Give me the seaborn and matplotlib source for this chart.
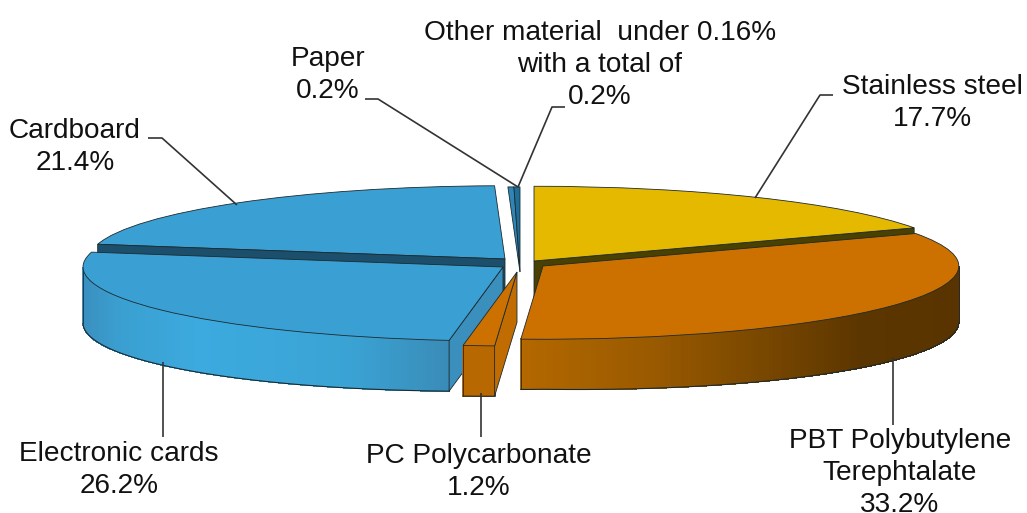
import numpy as np
import matplotlib
matplotlib.use("Agg")
import matplotlib.pyplot as plt
from matplotlib.colors import to_rgb
import seaborn as sns

materials = ["Stainless steel", "PBT Polybutylene\nTerephtalate", "PC Polycarbonate",
             "Electronic cards", "Cardboard", "Paper",
             "Other material  under 0.16%\nwith a total of"]
shares = [17.7, 33.2, 1.2, 26.2, 21.4, 0.2, 0.2]

top_colors = sns.color_palette(["#E5B900", "#CC7000", "#CC7000", "#3A9FD2", "#3A9FD2", "#2F86B5", "#1D6F9A"])

# geometry of the drawing, in pixels of the 1027x513 image
CX, CY, RX, RY = 520.0, 263.0, 420.0, 74.0
apex_px = [(534, 261), (543, 266), (517, 272), (503, 267), (505, 259), (520, 272), (520, 272)]
radius_scale = [1.01, 0.99, 1.0, 1.0, 0.99, 1.15, 1.15]
DEPTH_MID, DEPTH_EDGE = 50.0, 56.0

def to_data(px, py):
    return (px - CX) / RX, (CY - py) / RY

sns.set_theme(style="white")
plt.rcParams["font.family"] = ["Liberation Sans", "DejaVu Sans"]

fig = plt.figure(figsize=(10.27, 5.13), dpi=100, facecolor="white")
ax = fig.add_axes([0, 0, 1, 1])
wedges, _ = ax.pie(shares, colors=top_colors, startangle=90, counterclock=False,
                   wedgeprops=dict(edgecolor="#1c2a30", linewidth=0.6))
ax.set_aspect("auto")
ax.set_xlim(*[to_data(v, 0)[0] for v in (0, 1027)])
ax.set_ylim(to_data(0, 513)[1], to_data(0, 0)[1])
ax.axis("off")

for w, a, s in zip(wedges, apex_px, radius_scale):
    w.set_center(to_data(*a))
    w.set_radius(s)

def depth(t):
    return (DEPTH_MID + (DEPTH_EDGE - DEPTH_MID) * np.abs(np.cos(np.radians(t)))) / RY

def wall(w, px_stops, hex_stops, z):
    lo, hi = sorted((w.theta1, w.theta2))
    ts = np.linspace(lo, hi, 160)
    ts = ts[np.sin(np.radians(ts)) <= 0]
    cx, cy = w.center
    r = w.r
    xs = cx + r * np.cos(np.radians(ts))
    ys = cy + r * np.sin(np.radians(ts))
    ds = depth(ts)
    rgb = np.array([to_rgb(c) for c in hex_stops])
    for i in range(len(ts) - 1):
        mid = CX + RX * 0.5 * (xs[i] + xs[i + 1])
        col = [np.interp(mid, px_stops, rgb[:, j]) for j in range(3)]
        ax.fill([xs[i], xs[i + 1], xs[i + 1], xs[i]],
                [ys[i], ys[i + 1], ys[i + 1] - ds[i + 1], ys[i] - ds[i]],
                facecolor=col, edgecolor=col, linewidth=0.4, zorder=z, antialiased=False)
    ax.plot(xs, ys - ds, color="#1c2a30", lw=0.8, zorder=z + 0.1)
    ax.plot([xs[0], xs[0]], [ys[0], ys[0] - ds[0]], color="#1c2a30", lw=0.6, zorder=z + 0.1)
    ax.plot([xs[-1], xs[-1]], [ys[-1], ys[-1] - ds[-1]], color="#1c2a30", lw=0.6, zorder=z + 0.1)

def cut(w, angle, color, z):
    cx, cy = w.center
    rx = cx + w.r * np.cos(np.radians(angle))
    ry = cy + w.r * np.sin(np.radians(angle))
    d = depth(angle)
    ax.fill([cx, rx, rx, cx], [cy, ry, ry - d, cy - d],
            facecolor=color, edgecolor="#1c2a30", linewidth=0.6, zorder=z)

steel, pbt, pc, cards, board, paper, other = wedges

# stacking back to front
board.set_zorder(2)
paper.set_zorder(2.2)
other.set_zorder(2.2)
cut(steel, min(steel.theta1, steel.theta2), "#4A4000", 2.5)
steel.set_zorder(3)
cut(board, max(board.theta1, board.theta2), "#1B4F6B", 3.5)

wall(cards, [83, 120, 200, 350, 447],
     ["#3A8FBF", "#3A9FD0", "#3CAADF", "#3AA3D4", "#3A8CB8"], 4)
cut(cards, max(cards.theta1, cards.theta2), "#3A8FBD", 4.5)
cards.set_zorder(5)

wall(pc, [460, 500], ["#B86800", "#B86800"], 6)
cut(pc, max(pc.theta1, pc.theta2), "#C06C00", 6.5)
pc.set_zorder(7)

wall(pbt, [520, 650, 760, 860, 960],
     ["#B46800", "#9A5A00", "#7A4800", "#5C3600", "#5A3400"], 8)
pbt.set_zorder(9)

# leader lines
leaders = [
    [(365, 99), (378, 99), (518, 187)],
    [(565, 107), (552, 107), (518, 187)],
    [(833, 95), (820, 95), (755, 198)],
    [(148, 138), (162, 138), (237, 205)],
    [(163, 362), (163, 437)],
    [(481, 393), (481, 437)],
    [(893, 357), (893, 425)],
]
for pts in leaders:
    xy = np.array([to_data(*p) for p in pts])
    ax.plot(xy[:, 0], xy[:, 1], color="#333333", lw=1.2, zorder=10, solid_capstyle="butt")

# labels
label_pos = [(932, 103), (900, 473), (479, 472), (119, 470), (75, 147), (328, 75), (600, 65)]
for name, val, (lx, ly) in zip(materials, shares, label_pos):
    tx, ty = to_data(lx, ly)
    ax.text(tx, ty, f"{name}\n{val:.1f}%", ha="center", va="center", fontsize=20.2,
            color="#111111", linespacing=1.31, zorder=11)

fig.savefig("out.png", dpi=100, facecolor="white")
